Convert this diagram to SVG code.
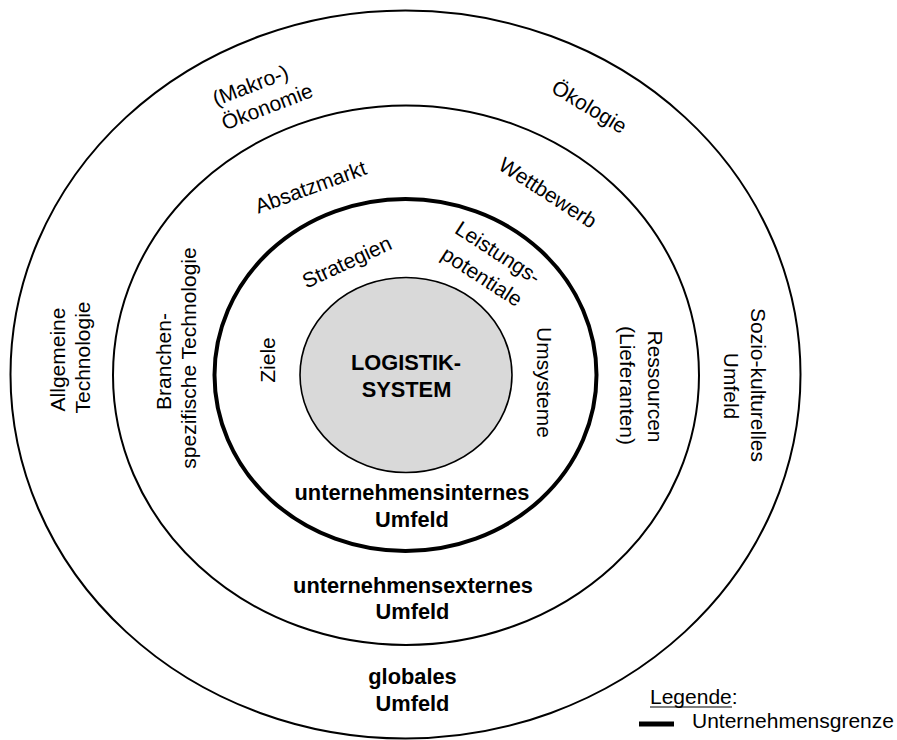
<svg xmlns="http://www.w3.org/2000/svg" width="897" height="740" viewBox="0 0 897 740">
  <style>
    text { font-family: "Liberation Sans", Arial, sans-serif; font-size: 21px; fill: #000; }
    .b { font-weight: bold; font-size: 21.8px; }
    .c { text-anchor: middle; }
    .ring { fill: none; stroke: #000; stroke-width: 2; }
    .border { fill: none; stroke: #000; stroke-width: 4; }
    .core { fill: #d9d9d9; stroke: #000; stroke-width: 1.6; }
  </style>

  <rect width="897" height="740" fill="#fff"/>

  <!-- globales Umfeld -->
  <g id="global">
    <ellipse class="ring" cx="405.5" cy="374.5" rx="395" ry="364"/>
    <text class="c" transform="translate(251,87) rotate(-21)" y="5.5">(Makro-)</text>
    <text class="c" transform="translate(266.5,105) rotate(-21)" y="9">Ökonomie</text>
    <text class="c" transform="translate(589.5,106.5) rotate(31)" y="7.5">Ökologie</text>
    <text class="c" transform="translate(65,359.5) rotate(-90)">Allgemeine</text>
    <text class="c" transform="translate(90,357.5) rotate(-90)">Technologie</text>
    <text class="c" transform="translate(750.5,385) rotate(90)">Sozio-kulturelles</text>
    <text class="c" transform="translate(724,386) rotate(90)">Umfeld</text>
    <text class="c b" x="412.5" y="684">globales</text>
    <text class="c b" x="412.5" y="711">Umfeld</text>
  </g>

  <!-- unternehmensexternes Umfeld -->
  <g id="extern">
    <ellipse class="ring" cx="406" cy="375.2" rx="293" ry="269.8"/>
    <text class="c" transform="translate(310.5,186.7) rotate(-20)" y="7.5">Absatzmarkt</text>
    <text class="c" transform="translate(548,192.5) rotate(33)" y="7.5">Wettbewerb</text>
    <text class="c" transform="translate(171,361.5) rotate(-90)">Branchen-</text>
    <text class="c" transform="translate(196,358) rotate(-90)">spezifische Technologie</text>
    <text class="c" transform="translate(647.5,386.5) rotate(90)">Ressourcen</text>
    <text class="c" transform="translate(620,385.5) rotate(90)">(Lieferanten)</text>
    <text class="c b" x="413" y="593">unternehmensexternes</text>
    <text class="c b" x="412.5" y="619">Umfeld</text>
  </g>

  <!-- unternehmensinternes Umfeld (Unternehmensgrenze) -->
  <g id="intern">
    <ellipse class="border" cx="405.5" cy="375" rx="191" ry="176"/>
    <text class="c" transform="translate(347.5,263.5) rotate(-25)" y="5.5">Strategien</text>
    <text class="c" transform="translate(497,254) rotate(33)" y="5.5">Leistungs-</text>
    <text class="c" transform="translate(481,278) rotate(33)" y="5.5">potentiale</text>
    <text class="c" transform="translate(275,360) rotate(-90)">Ziele</text>
    <text class="c" transform="translate(537,382.5) rotate(90)">Umsysteme</text>
    <text class="c b" x="412" y="500">unternehmensinternes</text>
    <text class="c b" x="412" y="527">Umfeld</text>
  </g>

  <!-- Logistiksystem -->
  <g id="logistik">
    <ellipse class="core" cx="406" cy="375" rx="106" ry="97.5"/>
    <text class="c b" x="406" y="370">LOGISTIK-</text>
    <text class="c b" x="406.5" y="397">SYSTEM</text>
  </g>

  <!-- Legende -->
  <g id="legende">
    <text x="650" y="704">Legende:</text>
    <line x1="650" y1="707" x2="732" y2="707" stroke="#000" stroke-width="1.2"/>
    <line x1="639" y1="724" x2="674" y2="724" stroke="#000" stroke-width="5"/>
    <text x="692" y="728">Unternehmensgrenze</text>
  </g>

  <g id="connectors"/>
</svg>
